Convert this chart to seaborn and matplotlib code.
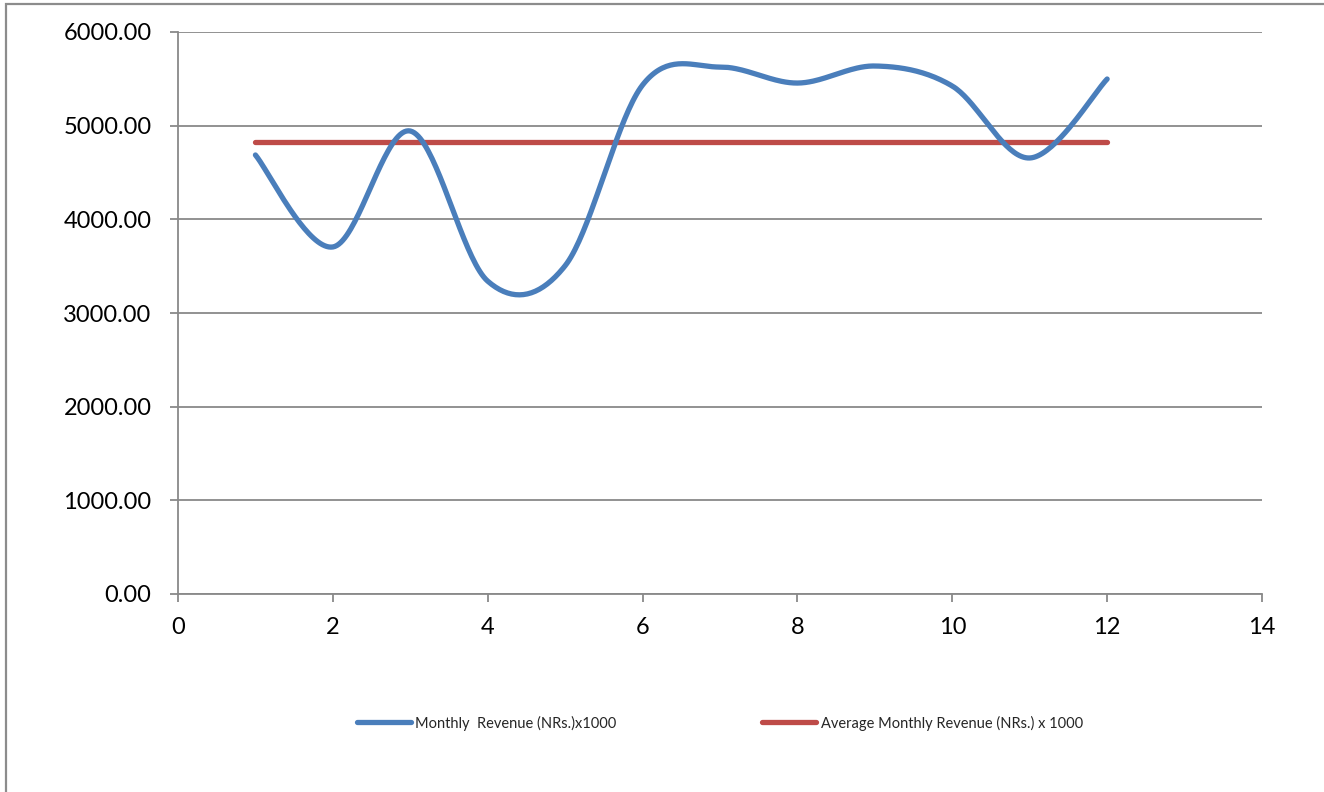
import numpy as np
import pandas as pd
import matplotlib
matplotlib.use("Agg")
import matplotlib.pyplot as plt
from matplotlib.patches import Rectangle
from matplotlib.lines import Line2D
import seaborn as sns

# Monthly revenue (NRs. x 1000) for months 1-12 and its average
months = [1, 2, 3, 4, 5, 6, 7, 8, 9, 10, 11, 12]
monthly_revenue = [4687, 3705, 4943, 3340, 3505, 5434, 5626, 5455, 5637, 5423, 4655, 5498]
average_revenue = [4826, 4826, 4826, 4826, 4826, 4826, 4826, 4826, 4826, 4826, 4826, 4826]

series_labels = ["Monthly  Revenue (NRs.)x1000", "Average Monthly Revenue (NRs.) x 1000"]
x_ticks = [0, 2, 4, 6, 8, 10, 12, 14]
y_ticks = [0, 1000, 2000, 3000, 4000, 5000, 6000]

BLUE = "#4A7EBB"
RED = "#BE4B48"
GRID = "#898989"


def smooth_path(xs, ys, steps=40):
    """Spreadsheet-style smoothed line: cubic Bezier segments with
    Catmull-Rom control points through every data point."""
    px = np.asarray(xs, dtype=float)
    py = np.asarray(ys, dtype=float)
    n = len(px)
    out_x, out_y = [], []
    t = np.linspace(0, 1, steps)
    for i in range(n - 1):
        i0 = max(i - 1, 0)
        i3 = min(i + 2, n - 1)
        p0 = np.array([px[i], py[i]])
        p3 = np.array([px[i + 1], py[i + 1]])
        c1 = p0 + (np.array([px[i + 1], py[i + 1]]) - np.array([px[i0], py[i0]])) / 6.0
        c2 = p3 - (np.array([px[i3], py[i3]]) - np.array([px[i], py[i]])) / 6.0
        b = ((1 - t) ** 3)[:, None] * p0 + (3 * (1 - t) ** 2 * t)[:, None] * c1 \
            + (3 * (1 - t) * t ** 2)[:, None] * c2 + (t ** 3)[:, None] * p3
        if i > 0:
            b = b[1:]
        out_x.extend(b[:, 0])
        out_y.extend(b[:, 1])
    return np.array(out_x), np.array(out_y)


sns.set_theme(style="white")
plt.rcParams["font.family"] = ["Lato", "DejaVu Sans"]

W, H = 1324, 792
fig = plt.figure(figsize=(W / 100, H / 100), dpi=100)
ax = fig.add_axes([178 / W, (H - 594) / H, (1262 - 178) / W, (594 - 32) / H])

sx, sy = smooth_path(months, monthly_revenue)
curve = pd.DataFrame({"month": sx, "revenue": sy})
avg = pd.DataFrame({"month": months, "revenue": average_revenue})

sns.lineplot(data=curve, x="month", y="revenue", sort=False, estimator=None,
             color=BLUE, linewidth=3.8, ax=ax, solid_capstyle="round", zorder=3)
sns.lineplot(data=avg, x="month", y="revenue", sort=False, estimator=None,
             color=RED, linewidth=3.8, ax=ax, solid_capstyle="round", zorder=2)

ax.set_xlim(0, 14)
ax.set_ylim(0, 6000)
ax.set_xticks(x_ticks)
ax.set_yticks(y_ticks)
ax.set_yticklabels([f"{v:.2f}" for v in y_ticks])
ax.set_xlabel("")
ax.set_ylabel("")

ax.grid(axis="y", color=GRID, linewidth=1.3)
ax.grid(axis="x", visible=False)
ax.set_axisbelow(True)
for side in ("top", "right"):
    ax.spines[side].set_visible(False)
for side in ("left", "bottom"):
    ax.spines[side].set_color(GRID)
    ax.spines[side].set_linewidth(1.3)

ax.tick_params(axis="y", which="both", direction="out", length=6, width=1.3,
               color=GRID, pad=13, labelsize=17, labelcolor="black", left=True)
ax.tick_params(axis="x", which="both", direction="out", length=5.5, width=1.3,
               color=GRID, pad=11, labelsize=17, labelcolor="black", bottom=True)

handles = [Line2D([0], [0], color=BLUE, lw=3.8, solid_capstyle="round"),
           Line2D([0], [0], color=RED, lw=3.8, solid_capstyle="round")]
ax.legend(handles, series_labels, loc="center", bbox_to_anchor=(0.5, -0.2295),
          ncol=2, frameon=False, fontsize=10.5, handlelength=3.7,
          handletextpad=0.3, columnspacing=10.0)

# chart area border
fig.patches.append(Rectangle((5.5 / W, -0.1), 1.2, (H - 4) / H + 0.1,
                             transform=fig.transFigure, fill=False,
                             edgecolor="#8C8C8C", linewidth=1.6, zorder=0))

fig.savefig("out.png", dpi=100, facecolor="white")
